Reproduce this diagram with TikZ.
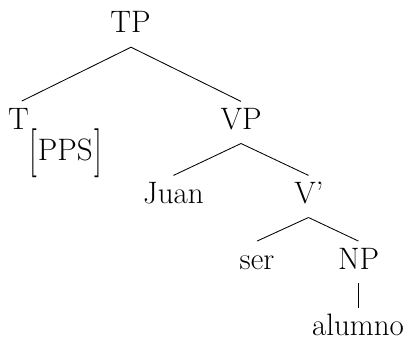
\documentclass[tikz,border=0pt]{standalone}
\usepackage{fontspec}
\usepackage{graphicx}
\begin{document}
\begin{tikzpicture}[x=1pt,y=-1pt,
  lbl/.style={font=\fontsize{31pt}{37pt}\selectfont, anchor=base, inner xsep=2pt, inner ysep=6pt, text height=21.7pt, text depth=8pt},
  leaf/.style={lbl, text depth=0.5pt, inner ysep=0.5pt, inner xsep=0pt, text height=27pt},
  feat/.style={font=\fontsize{31pt}{37pt}\selectfont, anchor=base west, inner sep=0pt},
  edge/.style={line width=0.85pt}]
\useasboundingbox (0,0) rectangle (409,337);
\node[lbl] (TP) at (130.5,33) {TP};
\node[lbl] (T) at (18.5,129) {T};
\node[feat] (PPS) at (29,160) {\raisebox{-5pt}{\scalebox{1}[1.58]{[}}\kern1pt PPS\kern1.5pt\raisebox{-5pt}{\scalebox{1}[1.58]{]}}};
\node[lbl] (VP) at (241,129.3) {VP};
\node[lbl] (Juan) at (173.5,203.3) {Juan};
\node[lbl] (Vbar) at (309,203.3) {V’};
\node[lbl] (ser) at (257,269) {ser};
\node[lbl] (NP) at (358.5,269) {NP};
\node[leaf] (alumno) at (358,335.5) {alumno};
\draw[edge] ([xshift=0.5pt]TP.south) -- ([xshift=3.2pt]T.north);
\draw[edge] ([xshift=0.5pt]TP.south) -- (VP.north);
\draw[edge] (VP.south) -- (Juan.north);
\draw[edge] (VP.south) -- ([xshift=-0.5pt]Vbar.north);
\draw[edge] ([xshift=-0.5pt]Vbar.south) -- (ser.north);
\draw[edge] ([xshift=-0.5pt]Vbar.south) -- (NP.north);
\draw[edge] (NP.south) -- ([xshift=0.5pt]alumno.north);
\end{tikzpicture}
\end{document}
